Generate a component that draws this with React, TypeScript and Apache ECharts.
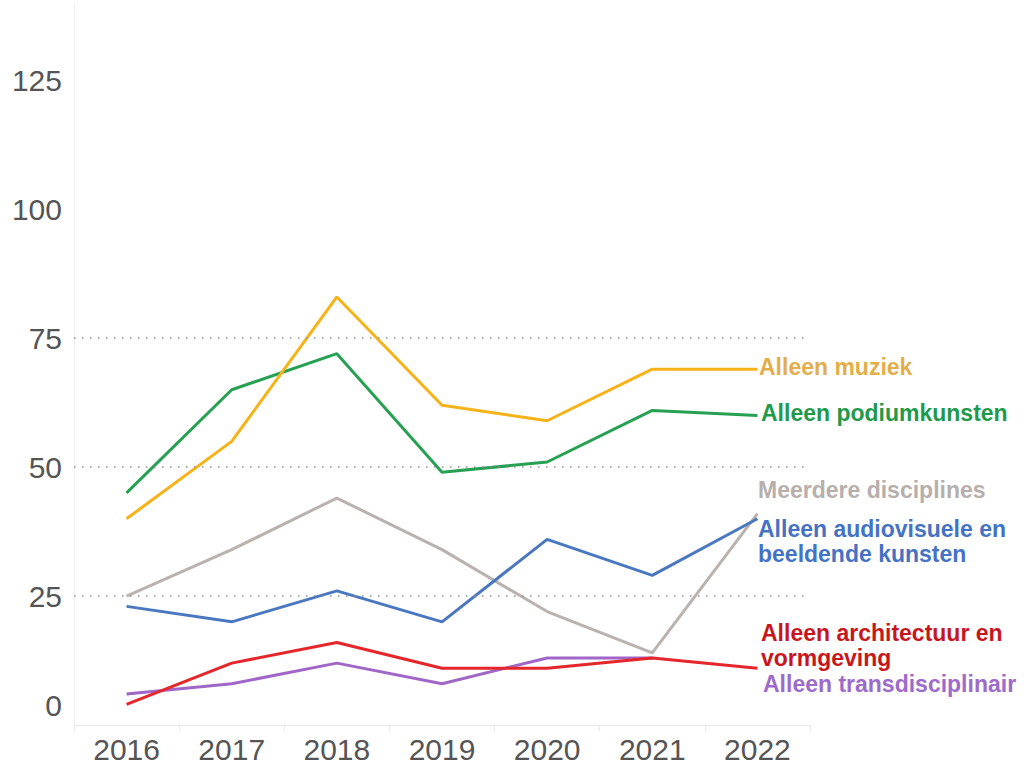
import React, { useEffect, useRef } from "react";
import * as echarts from "echarts";

const years = ["2016", "2017", "2018", "2019", "2020", "2021", "2022"];
const muziek = [40, 55, 83, 62, 59, 69, 69];
const podium = [45, 65, 72, 49, 51, 61, 60];
const meerdere = [25, 34, 44, 34, 22, 14, 41];
const audiovisueel = [23, 20, 26, 20, 36, 29, 40];
const architectuur = [4, 12, 16, 11, 11, 13, 11];
const transdisciplinair = [6, 8, 12, 8, 13, 13, null];
const gridValues = [25, 50, 75];
const yTicks = [0, 25, 50, 75, 100, 125];

const FONT = '"Liberation Sans", Arial, sans-serif';

export default function App() {
  const ref = useRef<HTMLDivElement>(null);
  useEffect(() => {
    document.body.style.margin = "0";
    const chart = echarts.init(ref.current!, null, { renderer: "svg" });
    const mk = (name: string, data: (number | null)[], color: string, extra: any = {}) => ({
      name,
      type: "line",
      data,
      symbol: "none",
      lineStyle: { color, width: 3 },
      itemStyle: { color },
      ...extra,
    });
    const labels = [
      { text: "Alleen muziek", x: 759, y: 367, fill: "#E3AE4A" },
      { text: "Alleen podiumkunsten", x: 761, y: 413, fill: "#1F9A4A" },
      { text: "Meerdere disciplines", x: 758, y: 490, fill: "#B7AFAB" },
      { text: "Alleen audiovisuele en\nbeeldende kunsten", x: 758, y: 541, fill: "#4472C4" },
      { text: "Alleen architectuur en\nvormgeving", x: 761, y: 645, fill: "#C8161D" },
      { text: "Alleen transdisciplinair", x: 763, y: 684, fill: "#9D6BCB" },
    ];
    chart.setOption({
      animation: false,
      textStyle: { fontFamily: FONT },
      grid: { left: 74, right: 214, top: 3, bottom: 42, containLabel: false },
      xAxis: {
        type: "category",
        data: years,
        boundaryGap: true,
        axisLine: { show: true, lineStyle: { color: "#e8e8e8", width: 1 } },
        axisTick: { show: true, length: 6, lineStyle: { color: "#e8e8e8" } },
        axisLabel: { fontSize: 30, color: "#555555", margin: 9, fontFamily: FONT },
      },
      yAxis: {
        type: "value",
        min: 0,
        max: 140,
        interval: 25,
        axisLine: { show: true, lineStyle: { color: "#efefef", width: 1 } },
        axisTick: { show: false },
        splitLine: { show: false },
        axisLabel: {
          fontSize: 30,
          color: "#555555",
          margin: 12,
          fontFamily: FONT,
          formatter: (v: number) =>
            yTicks.includes(v) ? (v === 0 ? "{z|0}" : String(v)) : "",
          rich: {
            z: { fontSize: 30, color: "#555555", fontFamily: FONT, padding: [0, 0, 40, 0] },
          },
        },
      },
      series: [
        mk("Meerdere disciplines", meerdere, "#BAB2AF", {
          markLine: {
            silent: true,
            symbol: "none",
            label: { show: false },
            lineStyle: { color: "#8f8f8f", width: 1.5, type: [1.5, 6.5] },
            data: gridValues.map((v) => ({ yAxis: v })),
          },
        }),
        mk("Alleen transdisciplinair", transdisciplinair, "#A066C8"),
        mk("Alleen architectuur en vormgeving", architectuur, "#E5262A"),
        mk("Alleen audiovisuele en beeldende kunsten", audiovisueel, "#4A78C0"),
        mk("Alleen podiumkunsten", podium, "#26A052"),
        mk("Alleen muziek", muziek, "#F7B217"),
      ],
      graphic: labels.map((l) => ({
        type: "text",
        x: l.x,
        y: l.y,
        silent: true,
        style: {
          text: l.text,
          fill: l.fill,
          font: `bold 23px ${FONT}`,
          lineHeight: 25,
          verticalAlign: "middle",
          align: "left",
        },
      })),
    });
    return () => chart.dispose();
  }, []);
  return <div ref={ref} style={{ width: 1024, height: 767 }} />;
}
